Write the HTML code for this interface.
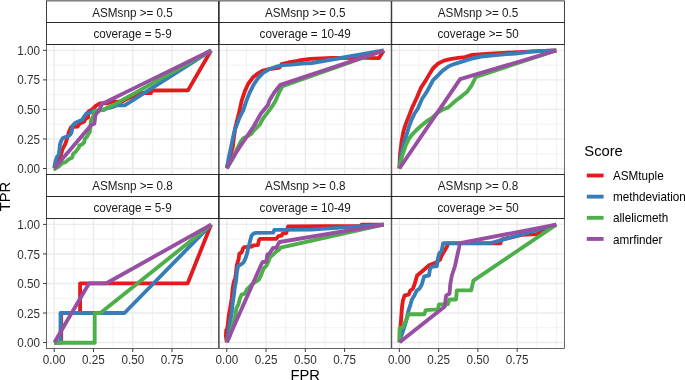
<!DOCTYPE html><html><head><meta charset="utf-8"><style>html,body{margin:0;padding:0;background:#fff;}svg{display:block;will-change:transform;}text{font-family:"Liberation Sans",sans-serif;}</style></head><body>
<svg width="685" height="380" viewBox="0 0 685 380">
<rect width="685" height="380" fill="#fff"/>
<line x1="73.84" y1="44.44" x2="73.84" y2="174.45" stroke="#EBEBEB" stroke-width="0.7"/><line x1="113.11" y1="44.44" x2="113.11" y2="174.45" stroke="#EBEBEB" stroke-width="0.7"/><line x1="152.39" y1="44.44" x2="152.39" y2="174.45" stroke="#EBEBEB" stroke-width="0.7"/><line x1="191.66" y1="44.44" x2="191.66" y2="174.45" stroke="#EBEBEB" stroke-width="0.7"/><line x1="211.30" y1="44.44" x2="211.30" y2="174.45" stroke="#EBEBEB" stroke-width="0.7"/><line x1="46.55" y1="153.73" x2="218.55" y2="153.73" stroke="#EBEBEB" stroke-width="0.7"/><line x1="46.55" y1="124.19" x2="218.55" y2="124.19" stroke="#EBEBEB" stroke-width="0.7"/><line x1="46.55" y1="94.66" x2="218.55" y2="94.66" stroke="#EBEBEB" stroke-width="0.7"/><line x1="46.55" y1="65.12" x2="218.55" y2="65.12" stroke="#EBEBEB" stroke-width="0.7"/><line x1="54.20" y1="44.44" x2="54.20" y2="174.45" stroke="#EBEBEB" stroke-width="1.4"/><line x1="93.47" y1="44.44" x2="93.47" y2="174.45" stroke="#EBEBEB" stroke-width="1.4"/><line x1="132.75" y1="44.44" x2="132.75" y2="174.45" stroke="#EBEBEB" stroke-width="1.4"/><line x1="172.02" y1="44.44" x2="172.02" y2="174.45" stroke="#EBEBEB" stroke-width="1.4"/><line x1="46.55" y1="168.50" x2="218.55" y2="168.50" stroke="#EBEBEB" stroke-width="1.4"/><line x1="46.55" y1="138.96" x2="218.55" y2="138.96" stroke="#EBEBEB" stroke-width="1.4"/><line x1="46.55" y1="109.42" x2="218.55" y2="109.42" stroke="#EBEBEB" stroke-width="1.4"/><line x1="46.55" y1="79.89" x2="218.55" y2="79.89" stroke="#EBEBEB" stroke-width="1.4"/><line x1="46.55" y1="50.35" x2="218.55" y2="50.35" stroke="#EBEBEB" stroke-width="1.4"/>
<g fill="none" stroke-width="3.85" stroke-linejoin="round" stroke-linecap="butt">
<path d="M54.2,168.2 L57.0,163.5 L60.0,158.8 L62.2,150.0 L65.5,143.3 L67.7,136.6 L68.8,132.2 L71.1,127.1 L77.7,126.5 L79.4,123.8 L84.3,121.5 L85.4,118.8 L88.0,117.5 L88.5,111.5 L92.3,109.3 L95.5,106.1 L98.6,104.2 L100.0,103.3 L106.8,103.4 L112.5,101.7 L122.1,101.7 L127.4,98.5 L131.6,97.0 L136.8,94.8 L142.1,93.0 L151.0,93.0 L151.5,90.5 L188.0,90.4 L211.1,50.5" stroke="#E41A1C"/>
<path d="M54.2,168.2 L55.5,161.0 L57.2,156.5 L58.8,154.9 L59.4,149.9 L60.0,144.4 L61.1,141.1 L62.7,138.3 L64.9,137.2 L67.7,136.6 L70.5,134.4 L71.6,132.2 L72.7,125.4 L75.5,122.7 L79.4,121.0 L82.1,119.9 L83.8,117.1 L86.5,113.3 L89.9,112.7 L93.2,110.8 L104.0,109.9 L106.3,108.7 L113.7,106.6 L116.8,105.3 L124.7,105.3 L211.1,50.5" stroke="#377EB8"/>
<path d="M54.2,168.2 L55.0,169.0 L58.8,166.5 L62.2,163.2 L65.5,162.1 L69.4,158.8 L72.1,157.7 L73.2,153.8 L75.4,152.1 L77.1,149.9 L78.8,147.7 L79.3,145.5 L82.1,144.4 L84.3,142.2 L84.8,138.8 L87.1,136.6 L88.2,134.4 L89.8,132.2 L90.4,127.1 L91.0,120.4 L93.2,116.0 L94.3,111.6 L96.5,110.5 L100.9,110.3 L102.6,110.0 L106.5,108.2 L110.5,106.3 L114.7,104.4 L211.1,50.5" stroke="#4DAF4A"/>
<path d="M54.2,168.5 L91.5,124.8 L94.4,123.6 L95.4,115.0 L99.5,109.9 L101.2,105.5 L102.6,103.2 L104.5,102.8 L125.0,92.6 L211.1,50.5" stroke="#984EA3"/>
</g>
<rect x="46.55" y="44.44" width="172.00" height="130.01" fill="none" stroke="#333333" stroke-width="0.75"/>
<rect x="46.55" y="0.9" width="172.00" height="21.57" fill="#fff" stroke="#000" stroke-width="0.75"/>
<rect x="46.55" y="22.47" width="172.00" height="21.97" fill="#fff" stroke="#000" stroke-width="0.75"/>
<text transform="translate(132.55,16.50) scale(1,1.05)" font-size="11.7" fill="#1A1A1A" text-anchor="middle">ASMsnp &gt;= 0.5</text>
<text transform="translate(132.55,38.07) scale(1,1.05)" font-size="11.7" fill="#1A1A1A" text-anchor="middle">coverage = 5-9</text>
<line x1="246.41" y1="44.44" x2="246.41" y2="174.45" stroke="#EBEBEB" stroke-width="0.7"/><line x1="285.69" y1="44.44" x2="285.69" y2="174.45" stroke="#EBEBEB" stroke-width="0.7"/><line x1="324.96" y1="44.44" x2="324.96" y2="174.45" stroke="#EBEBEB" stroke-width="0.7"/><line x1="364.24" y1="44.44" x2="364.24" y2="174.45" stroke="#EBEBEB" stroke-width="0.7"/><line x1="383.88" y1="44.44" x2="383.88" y2="174.45" stroke="#EBEBEB" stroke-width="0.7"/><line x1="219.2" y1="153.73" x2="391.2" y2="153.73" stroke="#EBEBEB" stroke-width="0.7"/><line x1="219.2" y1="124.19" x2="391.2" y2="124.19" stroke="#EBEBEB" stroke-width="0.7"/><line x1="219.2" y1="94.66" x2="391.2" y2="94.66" stroke="#EBEBEB" stroke-width="0.7"/><line x1="219.2" y1="65.12" x2="391.2" y2="65.12" stroke="#EBEBEB" stroke-width="0.7"/><line x1="226.77" y1="44.44" x2="226.77" y2="174.45" stroke="#EBEBEB" stroke-width="1.4"/><line x1="266.05" y1="44.44" x2="266.05" y2="174.45" stroke="#EBEBEB" stroke-width="1.4"/><line x1="305.32" y1="44.44" x2="305.32" y2="174.45" stroke="#EBEBEB" stroke-width="1.4"/><line x1="344.60" y1="44.44" x2="344.60" y2="174.45" stroke="#EBEBEB" stroke-width="1.4"/><line x1="219.2" y1="168.50" x2="391.2" y2="168.50" stroke="#EBEBEB" stroke-width="1.4"/><line x1="219.2" y1="138.96" x2="391.2" y2="138.96" stroke="#EBEBEB" stroke-width="1.4"/><line x1="219.2" y1="109.42" x2="391.2" y2="109.42" stroke="#EBEBEB" stroke-width="1.4"/><line x1="219.2" y1="79.89" x2="391.2" y2="79.89" stroke="#EBEBEB" stroke-width="1.4"/><line x1="219.2" y1="50.35" x2="391.2" y2="50.35" stroke="#EBEBEB" stroke-width="1.4"/>
<g fill="none" stroke-width="3.85" stroke-linejoin="round" stroke-linecap="butt">
<path d="M226.8,168.2 L229.5,158.0 L232.6,148.0 L235.2,127.9 L238.8,113.8 L241.7,100.6 L244.9,91.1 L248.1,84.0 L252.8,77.6 L257.5,73.7 L263.1,70.5 L269.4,69.0 L276.5,68.0 L279.5,67.5 L281.5,64.2 L288.4,62.5 L296.0,61.2 L298.8,60.5 L310.4,58.8 L332.3,58.0 L363.0,57.9 L379.0,58.1 L383.7,50.5" stroke="#E41A1C"/>
<path d="M226.8,168.2 L229.1,156.1 L231.7,143.8 L234.3,131.5 L237.0,124.4 L239.6,117.3 L243.2,110.3 L246.5,100.6 L249.6,92.7 L253.6,84.8 L258.3,77.8 L263.1,72.8 L267.8,70.1 L272.6,68.0 L277.3,66.3 L283.6,65.2 L292.0,64.6 L301.7,63.7 L311.9,63.0 L383.7,50.5" stroke="#377EB8"/>
<path d="M226.8,168.5 L233.5,157.5 L237.5,148.0 L240.5,142.0 L243.2,138.5 L251.1,134.1 L253.7,130.6 L259.9,124.4 L262.6,119.1 L267.9,112.1 L273.1,105.0 L275.7,100.6 L279.5,91.5 L282.5,86.2 L383.7,50.5" stroke="#4DAF4A"/>
<path d="M226.8,168.2 L232.6,157.9 L239.6,147.3 L246.7,136.7 L253.7,126.2 L260.8,113.8 L267.9,105.0 L269.4,100.6 L274.1,92.7 L277.6,88.2 L280.4,84.8 L383.7,50.5" stroke="#984EA3"/>
</g>
<rect x="219.2" y="44.44" width="172.00" height="130.01" fill="none" stroke="#333333" stroke-width="0.75"/>
<rect x="219.2" y="0.9" width="172.00" height="21.57" fill="#fff" stroke="#000" stroke-width="0.75"/>
<rect x="219.2" y="22.47" width="172.00" height="21.97" fill="#fff" stroke="#000" stroke-width="0.75"/>
<text transform="translate(305.20,16.50) scale(1,1.05)" font-size="11.7" fill="#1A1A1A" text-anchor="middle">ASMsnp &gt;= 0.5</text>
<text transform="translate(305.20,38.07) scale(1,1.05)" font-size="11.7" fill="#1A1A1A" text-anchor="middle">coverage = 10-49</text>
<line x1="418.99" y1="44.44" x2="418.99" y2="174.45" stroke="#EBEBEB" stroke-width="0.7"/><line x1="458.26" y1="44.44" x2="458.26" y2="174.45" stroke="#EBEBEB" stroke-width="0.7"/><line x1="497.54" y1="44.44" x2="497.54" y2="174.45" stroke="#EBEBEB" stroke-width="0.7"/><line x1="536.81" y1="44.44" x2="536.81" y2="174.45" stroke="#EBEBEB" stroke-width="0.7"/><line x1="556.45" y1="44.44" x2="556.45" y2="174.45" stroke="#EBEBEB" stroke-width="0.7"/><line x1="391.8" y1="153.73" x2="564.35" y2="153.73" stroke="#EBEBEB" stroke-width="0.7"/><line x1="391.8" y1="124.19" x2="564.35" y2="124.19" stroke="#EBEBEB" stroke-width="0.7"/><line x1="391.8" y1="94.66" x2="564.35" y2="94.66" stroke="#EBEBEB" stroke-width="0.7"/><line x1="391.8" y1="65.12" x2="564.35" y2="65.12" stroke="#EBEBEB" stroke-width="0.7"/><line x1="399.35" y1="44.44" x2="399.35" y2="174.45" stroke="#EBEBEB" stroke-width="1.4"/><line x1="438.62" y1="44.44" x2="438.62" y2="174.45" stroke="#EBEBEB" stroke-width="1.4"/><line x1="477.90" y1="44.44" x2="477.90" y2="174.45" stroke="#EBEBEB" stroke-width="1.4"/><line x1="517.17" y1="44.44" x2="517.17" y2="174.45" stroke="#EBEBEB" stroke-width="1.4"/><line x1="391.8" y1="168.50" x2="564.35" y2="168.50" stroke="#EBEBEB" stroke-width="1.4"/><line x1="391.8" y1="138.96" x2="564.35" y2="138.96" stroke="#EBEBEB" stroke-width="1.4"/><line x1="391.8" y1="109.42" x2="564.35" y2="109.42" stroke="#EBEBEB" stroke-width="1.4"/><line x1="391.8" y1="79.89" x2="564.35" y2="79.89" stroke="#EBEBEB" stroke-width="1.4"/><line x1="391.8" y1="50.35" x2="564.35" y2="50.35" stroke="#EBEBEB" stroke-width="1.4"/>
<g fill="none" stroke-width="3.85" stroke-linejoin="round" stroke-linecap="butt">
<path d="M399.4,168.5 L400.0,154.4 L401.8,140.3 L403.4,131.5 L405.6,124.4 L409.1,115.6 L411.8,108.5 L413.2,105.5 L417.1,97.0 L421.1,87.5 L425.8,80.4 L429.0,74.9 L432.9,68.5 L437.7,63.8 L444.0,60.6 L450.3,59.1 L458.2,57.8 L465.0,57.2 L472.4,54.8 L489.7,53.6 L507.1,52.6 L524.4,51.8 L538.3,51.2 L556.3,50.5" stroke="#E41A1C"/>
<path d="M399.4,168.2 L401.2,154.4 L403.8,143.8 L406.5,135.0 L409.1,126.2 L411.8,119.1 L414.4,113.8 L417.9,108.5 L421.9,99.3 L427.4,90.7 L431.3,83.5 L432.9,80.4 L437.7,75.6 L442.4,70.9 L448.7,66.2 L455.0,63.8 L461.9,61.7 L470.6,58.8 L481.0,56.5 L498.4,54.8 L515.8,53.5 L533.1,51.3 L556.3,50.5" stroke="#377EB8"/>
<path d="M399.4,168.2 L402.1,156.1 L405.6,145.6 L409.1,138.5 L412.6,134.0 L416.2,130.3 L421.5,125.5 L426.7,121.2 L432.0,117.8 L437.3,112.8 L442.6,109.5 L447.9,107.6 L451.9,104.1 L455.0,101.3 L461.9,96.1 L467.2,91.7 L471.5,85.7 L474.1,80.5 L475.9,76.8 L556.3,50.5" stroke="#4DAF4A"/>
<path d="M399.4,168.5 L460.1,79.2 L556.3,50.5" stroke="#984EA3"/>
</g>
<rect x="391.8" y="44.44" width="172.55" height="130.01" fill="none" stroke="#333333" stroke-width="0.75"/>
<rect x="391.8" y="0.9" width="172.55" height="21.57" fill="#fff" stroke="#000" stroke-width="0.75"/>
<rect x="391.8" y="22.47" width="172.55" height="21.97" fill="#fff" stroke="#000" stroke-width="0.75"/>
<text transform="translate(478.08,16.50) scale(1,1.05)" font-size="11.7" fill="#1A1A1A" text-anchor="middle">ASMsnp &gt;= 0.5</text>
<text transform="translate(478.08,38.07) scale(1,1.05)" font-size="11.7" fill="#1A1A1A" text-anchor="middle">coverage &gt;= 50</text>
<line x1="43.0" y1="168.50" x2="46.55" y2="168.50" stroke="#333333" stroke-width="0.95"/>
<text transform="translate(40.10,173.10) scale(1,1.05)" font-size="11.7" fill="#303030" text-anchor="end">0.00</text>
<line x1="43.0" y1="138.96" x2="46.55" y2="138.96" stroke="#333333" stroke-width="0.95"/>
<text transform="translate(40.10,143.56) scale(1,1.05)" font-size="11.7" fill="#303030" text-anchor="end">0.25</text>
<line x1="43.0" y1="109.42" x2="46.55" y2="109.42" stroke="#333333" stroke-width="0.95"/>
<text transform="translate(40.10,114.02) scale(1,1.05)" font-size="11.7" fill="#303030" text-anchor="end">0.50</text>
<line x1="43.0" y1="79.89" x2="46.55" y2="79.89" stroke="#333333" stroke-width="0.95"/>
<text transform="translate(40.10,84.49) scale(1,1.05)" font-size="11.7" fill="#303030" text-anchor="end">0.75</text>
<line x1="43.0" y1="50.35" x2="46.55" y2="50.35" stroke="#333333" stroke-width="0.95"/>
<text transform="translate(40.10,54.95) scale(1,1.05)" font-size="11.7" fill="#303030" text-anchor="end">1.00</text>
<line x1="73.84" y1="218.5" x2="73.84" y2="348.5" stroke="#EBEBEB" stroke-width="0.7"/><line x1="113.11" y1="218.5" x2="113.11" y2="348.5" stroke="#EBEBEB" stroke-width="0.7"/><line x1="152.39" y1="218.5" x2="152.39" y2="348.5" stroke="#EBEBEB" stroke-width="0.7"/><line x1="191.66" y1="218.5" x2="191.66" y2="348.5" stroke="#EBEBEB" stroke-width="0.7"/><line x1="211.30" y1="218.5" x2="211.30" y2="348.5" stroke="#EBEBEB" stroke-width="0.7"/><line x1="46.55" y1="327.78" x2="218.55" y2="327.78" stroke="#EBEBEB" stroke-width="0.7"/><line x1="46.55" y1="298.24" x2="218.55" y2="298.24" stroke="#EBEBEB" stroke-width="0.7"/><line x1="46.55" y1="268.71" x2="218.55" y2="268.71" stroke="#EBEBEB" stroke-width="0.7"/><line x1="46.55" y1="239.17" x2="218.55" y2="239.17" stroke="#EBEBEB" stroke-width="0.7"/><line x1="54.20" y1="218.5" x2="54.20" y2="348.5" stroke="#EBEBEB" stroke-width="1.4"/><line x1="93.47" y1="218.5" x2="93.47" y2="348.5" stroke="#EBEBEB" stroke-width="1.4"/><line x1="132.75" y1="218.5" x2="132.75" y2="348.5" stroke="#EBEBEB" stroke-width="1.4"/><line x1="172.02" y1="218.5" x2="172.02" y2="348.5" stroke="#EBEBEB" stroke-width="1.4"/><line x1="46.55" y1="342.55" x2="218.55" y2="342.55" stroke="#EBEBEB" stroke-width="1.4"/><line x1="46.55" y1="313.01" x2="218.55" y2="313.01" stroke="#EBEBEB" stroke-width="1.4"/><line x1="46.55" y1="283.48" x2="218.55" y2="283.48" stroke="#EBEBEB" stroke-width="1.4"/><line x1="46.55" y1="253.94" x2="218.55" y2="253.94" stroke="#EBEBEB" stroke-width="1.4"/><line x1="46.55" y1="224.40" x2="218.55" y2="224.40" stroke="#EBEBEB" stroke-width="1.4"/>
<g fill="none" stroke-width="3.85" stroke-linejoin="round" stroke-linecap="butt">
<path d="M54.2,342.5 L61.2,342.5 L61.2,313.1 L80.1,313.1 L80.1,283.3 L187.7,283.3 L211.1,224.6" stroke="#E41A1C"/>
<path d="M54.2,342.5 L60.5,342.5 L60.5,313.0 L124.5,313.0 L211.1,224.6" stroke="#377EB8"/>
<path d="M54.2,342.7 L94.7,342.7 L94.7,313.1 L100.4,313.1 L211.1,224.6" stroke="#4DAF4A"/>
<path d="M54.4,342.5 L89.1,283.3 L106.5,283.3 L211.1,224.6" stroke="#984EA3"/>
</g>
<rect x="46.55" y="218.5" width="172.00" height="130.00" fill="none" stroke="#333333" stroke-width="0.75"/>
<rect x="46.55" y="174.45" width="172.00" height="22.00" fill="#fff" stroke="#000" stroke-width="0.75"/>
<rect x="46.55" y="196.45" width="172.00" height="22.05" fill="#fff" stroke="#000" stroke-width="0.75"/>
<text transform="translate(132.55,190.05) scale(1,1.05)" font-size="11.7" fill="#1A1A1A" text-anchor="middle">ASMsnp &gt;= 0.8</text>
<text transform="translate(132.55,212.05) scale(1,1.05)" font-size="11.7" fill="#1A1A1A" text-anchor="middle">coverage = 5-9</text>
<line x1="246.41" y1="218.5" x2="246.41" y2="348.5" stroke="#EBEBEB" stroke-width="0.7"/><line x1="285.69" y1="218.5" x2="285.69" y2="348.5" stroke="#EBEBEB" stroke-width="0.7"/><line x1="324.96" y1="218.5" x2="324.96" y2="348.5" stroke="#EBEBEB" stroke-width="0.7"/><line x1="364.24" y1="218.5" x2="364.24" y2="348.5" stroke="#EBEBEB" stroke-width="0.7"/><line x1="383.88" y1="218.5" x2="383.88" y2="348.5" stroke="#EBEBEB" stroke-width="0.7"/><line x1="219.2" y1="327.78" x2="391.2" y2="327.78" stroke="#EBEBEB" stroke-width="0.7"/><line x1="219.2" y1="298.24" x2="391.2" y2="298.24" stroke="#EBEBEB" stroke-width="0.7"/><line x1="219.2" y1="268.71" x2="391.2" y2="268.71" stroke="#EBEBEB" stroke-width="0.7"/><line x1="219.2" y1="239.17" x2="391.2" y2="239.17" stroke="#EBEBEB" stroke-width="0.7"/><line x1="226.77" y1="218.5" x2="226.77" y2="348.5" stroke="#EBEBEB" stroke-width="1.4"/><line x1="266.05" y1="218.5" x2="266.05" y2="348.5" stroke="#EBEBEB" stroke-width="1.4"/><line x1="305.32" y1="218.5" x2="305.32" y2="348.5" stroke="#EBEBEB" stroke-width="1.4"/><line x1="344.60" y1="218.5" x2="344.60" y2="348.5" stroke="#EBEBEB" stroke-width="1.4"/><line x1="219.2" y1="342.55" x2="391.2" y2="342.55" stroke="#EBEBEB" stroke-width="1.4"/><line x1="219.2" y1="313.01" x2="391.2" y2="313.01" stroke="#EBEBEB" stroke-width="1.4"/><line x1="219.2" y1="283.48" x2="391.2" y2="283.48" stroke="#EBEBEB" stroke-width="1.4"/><line x1="219.2" y1="253.94" x2="391.2" y2="253.94" stroke="#EBEBEB" stroke-width="1.4"/><line x1="219.2" y1="224.40" x2="391.2" y2="224.40" stroke="#EBEBEB" stroke-width="1.4"/>
<g fill="none" stroke-width="3.85" stroke-linejoin="round" stroke-linecap="butt">
<path d="M226.8,342.3 L225.9,336.0 L226.2,330.2 L227.1,329.4 L227.9,323.9 L228.7,316.0 L230.5,306.0 L231.7,298.8 L232.7,288.3 L233.8,282.0 L235.3,278.3 L236.9,264.8 L238.7,258.7 L239.3,253.9 L241.8,252.1 L243.0,248.4 L244.2,247.2 L251.6,246.6 L253.2,245.4 L257.9,245.2 L258.9,240.4 L260.0,238.8 L276.3,238.8 L278.4,236.2 L281.6,235.7 L282.6,233.6 L286.3,233.0 L288.1,226.5 L360.9,225.9 L361.6,224.6 L383.7,224.6" stroke="#E41A1C"/>
<path d="M226.8,342.3 L227.9,335.8 L229.1,327.9 L230.3,320.7 L231.6,314.0 L232.7,303.0 L233.8,295.7 L234.8,287.3 L235.9,282.0 L236.9,272.0 L238.1,266.0 L240.5,264.8 L243.6,262.4 L245.4,258.7 L246.6,255.1 L247.8,250.2 L249.0,245.4 L250.2,240.5 L251.5,235.7 L253.9,233.3 L256.3,232.8 L273.2,232.7 L274.3,229.9 L311.3,229.6 L383.7,224.6" stroke="#377EB8"/>
<path d="M226.8,342.3 L229.9,335.8 L231.5,329.4 L233.1,323.1 L235.3,316.0 L236.4,308.3 L238.5,304.1 L240.1,297.8 L241.7,294.6 L244.8,293.6 L246.9,289.4 L249.0,287.3 L252.2,284.1 L255.4,282.0 L258.7,279.9 L261.1,275.1 L262.4,271.7 L263.8,268.3 L266.5,265.6 L268.4,261.5 L270.0,257.3 L273.2,254.6 L275.3,252.5 L276.8,250.9 L278.9,249.9 L280.5,247.8 L281.6,247.3 L383.7,224.6" stroke="#4DAF4A"/>
<path d="M226.8,342.3 L261.6,263.8 L262.8,262.0 L266.3,261.8 L266.8,257.8 L267.4,254.6 L269.5,253.6 L272.1,249.4 L273.2,247.8 L276.3,247.8 L277.9,244.6 L279.5,242.0 L282.6,241.5 L383.7,224.6" stroke="#984EA3"/>
</g>
<rect x="219.2" y="218.5" width="172.00" height="130.00" fill="none" stroke="#333333" stroke-width="0.75"/>
<rect x="219.2" y="174.45" width="172.00" height="22.00" fill="#fff" stroke="#000" stroke-width="0.75"/>
<rect x="219.2" y="196.45" width="172.00" height="22.05" fill="#fff" stroke="#000" stroke-width="0.75"/>
<text transform="translate(305.20,190.05) scale(1,1.05)" font-size="11.7" fill="#1A1A1A" text-anchor="middle">ASMsnp &gt;= 0.8</text>
<text transform="translate(305.20,212.05) scale(1,1.05)" font-size="11.7" fill="#1A1A1A" text-anchor="middle">coverage = 10-49</text>
<line x1="418.99" y1="218.5" x2="418.99" y2="348.5" stroke="#EBEBEB" stroke-width="0.7"/><line x1="458.26" y1="218.5" x2="458.26" y2="348.5" stroke="#EBEBEB" stroke-width="0.7"/><line x1="497.54" y1="218.5" x2="497.54" y2="348.5" stroke="#EBEBEB" stroke-width="0.7"/><line x1="536.81" y1="218.5" x2="536.81" y2="348.5" stroke="#EBEBEB" stroke-width="0.7"/><line x1="556.45" y1="218.5" x2="556.45" y2="348.5" stroke="#EBEBEB" stroke-width="0.7"/><line x1="391.8" y1="327.78" x2="564.35" y2="327.78" stroke="#EBEBEB" stroke-width="0.7"/><line x1="391.8" y1="298.24" x2="564.35" y2="298.24" stroke="#EBEBEB" stroke-width="0.7"/><line x1="391.8" y1="268.71" x2="564.35" y2="268.71" stroke="#EBEBEB" stroke-width="0.7"/><line x1="391.8" y1="239.17" x2="564.35" y2="239.17" stroke="#EBEBEB" stroke-width="0.7"/><line x1="399.35" y1="218.5" x2="399.35" y2="348.5" stroke="#EBEBEB" stroke-width="1.4"/><line x1="438.62" y1="218.5" x2="438.62" y2="348.5" stroke="#EBEBEB" stroke-width="1.4"/><line x1="477.90" y1="218.5" x2="477.90" y2="348.5" stroke="#EBEBEB" stroke-width="1.4"/><line x1="517.17" y1="218.5" x2="517.17" y2="348.5" stroke="#EBEBEB" stroke-width="1.4"/><line x1="391.8" y1="342.55" x2="564.35" y2="342.55" stroke="#EBEBEB" stroke-width="1.4"/><line x1="391.8" y1="313.01" x2="564.35" y2="313.01" stroke="#EBEBEB" stroke-width="1.4"/><line x1="391.8" y1="283.48" x2="564.35" y2="283.48" stroke="#EBEBEB" stroke-width="1.4"/><line x1="391.8" y1="253.94" x2="564.35" y2="253.94" stroke="#EBEBEB" stroke-width="1.4"/><line x1="391.8" y1="224.40" x2="564.35" y2="224.40" stroke="#EBEBEB" stroke-width="1.4"/>
<g fill="none" stroke-width="3.85" stroke-linejoin="round" stroke-linecap="butt">
<path d="M399.6,342.3 L399.8,330.0 L400.5,326.4 L401.3,316.6 L402.2,305.2 L403.0,300.3 L404.6,295.4 L408.7,294.6 L410.3,290.5 L412.8,288.9 L414.4,284.8 L417.1,275.5 L421.9,271.5 L427.4,266.8 L429.0,265.2 L435.3,262.9 L440.0,259.7 L441.6,255.7 L444.8,250.2 L447.1,246.3 L448.0,243.3 L491.7,243.4 L500.4,243.4 L501.4,239.6 L522.0,234.8 L537.1,234.2 L542.5,231.0 L556.3,224.6" stroke="#E41A1C"/>
<path d="M399.6,342.3 L400.5,337.8 L403.0,331.3 L406.0,321.5 L408.2,311.7 L410.3,305.2 L411.9,299.5 L414.4,295.4 L416.8,290.5 L419.3,288.9 L421.7,284.8 L424.2,276.3 L429.0,275.5 L429.8,270.0 L431.3,266.8 L436.9,266.0 L437.7,259.7 L439.2,253.4 L441.6,251.0 L443.2,243.1 L490.6,243.1 L556.3,224.6" stroke="#377EB8"/>
<path d="M399.6,342.3 L399.7,328.0 L403.0,327.2 L405.4,321.5 L407.0,318.3 L408.7,314.2 L424.2,314.2 L425.8,310.1 L438.0,309.3 L438.9,304.4 L447.8,304.4 L449.5,299.5 L456.0,299.5 L456.8,290.4 L471.2,290.4 L473.4,280.6 L556.3,224.6" stroke="#4DAF4A"/>
<path d="M399.6,342.3 L441.3,309.3 L444.6,306.8 L446.2,295.4 L449.5,293.8 L450.3,284.0 L451.9,275.5 L455.0,266.0 L457.4,255.0 L459.0,247.8 L459.8,243.1 L556.3,224.6" stroke="#984EA3"/>
</g>
<rect x="391.8" y="218.5" width="172.55" height="130.00" fill="none" stroke="#333333" stroke-width="0.75"/>
<rect x="391.8" y="174.45" width="172.55" height="22.00" fill="#fff" stroke="#000" stroke-width="0.75"/>
<rect x="391.8" y="196.45" width="172.55" height="22.05" fill="#fff" stroke="#000" stroke-width="0.75"/>
<text transform="translate(478.08,190.05) scale(1,1.05)" font-size="11.7" fill="#1A1A1A" text-anchor="middle">ASMsnp &gt;= 0.8</text>
<text transform="translate(478.08,212.05) scale(1,1.05)" font-size="11.7" fill="#1A1A1A" text-anchor="middle">coverage &gt;= 50</text>
<line x1="43.0" y1="342.55" x2="46.55" y2="342.55" stroke="#333333" stroke-width="0.95"/>
<text transform="translate(40.10,347.15) scale(1,1.05)" font-size="11.7" fill="#303030" text-anchor="end">0.00</text>
<line x1="43.0" y1="313.01" x2="46.55" y2="313.01" stroke="#333333" stroke-width="0.95"/>
<text transform="translate(40.10,317.61) scale(1,1.05)" font-size="11.7" fill="#303030" text-anchor="end">0.25</text>
<line x1="43.0" y1="283.48" x2="46.55" y2="283.48" stroke="#333333" stroke-width="0.95"/>
<text transform="translate(40.10,288.08) scale(1,1.05)" font-size="11.7" fill="#303030" text-anchor="end">0.50</text>
<line x1="43.0" y1="253.94" x2="46.55" y2="253.94" stroke="#333333" stroke-width="0.95"/>
<text transform="translate(40.10,258.54) scale(1,1.05)" font-size="11.7" fill="#303030" text-anchor="end">0.75</text>
<line x1="43.0" y1="224.40" x2="46.55" y2="224.40" stroke="#333333" stroke-width="0.95"/>
<text transform="translate(40.10,229.00) scale(1,1.05)" font-size="11.7" fill="#303030" text-anchor="end">1.00</text>
<line x1="54.20" y1="348.5" x2="54.20" y2="352.00" stroke="#333333" stroke-width="0.95"/>
<text transform="translate(54.20,364.00) scale(1,1.05)" font-size="11.7" fill="#303030" text-anchor="middle">0.00</text>
<line x1="93.47" y1="348.5" x2="93.47" y2="352.00" stroke="#333333" stroke-width="0.95"/>
<text transform="translate(93.47,364.00) scale(1,1.05)" font-size="11.7" fill="#303030" text-anchor="middle">0.25</text>
<line x1="132.75" y1="348.5" x2="132.75" y2="352.00" stroke="#333333" stroke-width="0.95"/>
<text transform="translate(132.75,364.00) scale(1,1.05)" font-size="11.7" fill="#303030" text-anchor="middle">0.50</text>
<line x1="172.02" y1="348.5" x2="172.02" y2="352.00" stroke="#333333" stroke-width="0.95"/>
<text transform="translate(172.02,364.00) scale(1,1.05)" font-size="11.7" fill="#303030" text-anchor="middle">0.75</text>
<line x1="226.77" y1="348.5" x2="226.77" y2="352.00" stroke="#333333" stroke-width="0.95"/>
<text transform="translate(226.77,364.00) scale(1,1.05)" font-size="11.7" fill="#303030" text-anchor="middle">0.00</text>
<line x1="266.05" y1="348.5" x2="266.05" y2="352.00" stroke="#333333" stroke-width="0.95"/>
<text transform="translate(266.05,364.00) scale(1,1.05)" font-size="11.7" fill="#303030" text-anchor="middle">0.25</text>
<line x1="305.32" y1="348.5" x2="305.32" y2="352.00" stroke="#333333" stroke-width="0.95"/>
<text transform="translate(305.32,364.00) scale(1,1.05)" font-size="11.7" fill="#303030" text-anchor="middle">0.50</text>
<line x1="344.60" y1="348.5" x2="344.60" y2="352.00" stroke="#333333" stroke-width="0.95"/>
<text transform="translate(344.60,364.00) scale(1,1.05)" font-size="11.7" fill="#303030" text-anchor="middle">0.75</text>
<line x1="399.35" y1="348.5" x2="399.35" y2="352.00" stroke="#333333" stroke-width="0.95"/>
<text transform="translate(399.35,364.00) scale(1,1.05)" font-size="11.7" fill="#303030" text-anchor="middle">0.00</text>
<line x1="438.62" y1="348.5" x2="438.62" y2="352.00" stroke="#333333" stroke-width="0.95"/>
<text transform="translate(438.62,364.00) scale(1,1.05)" font-size="11.7" fill="#303030" text-anchor="middle">0.25</text>
<line x1="477.90" y1="348.5" x2="477.90" y2="352.00" stroke="#333333" stroke-width="0.95"/>
<text transform="translate(477.90,364.00) scale(1,1.05)" font-size="11.7" fill="#303030" text-anchor="middle">0.50</text>
<line x1="517.17" y1="348.5" x2="517.17" y2="352.00" stroke="#333333" stroke-width="0.95"/>
<text transform="translate(517.17,364.00) scale(1,1.05)" font-size="11.7" fill="#303030" text-anchor="middle">0.75</text>
<text transform="translate(305.20,379.60) scale(1,1.05)" font-size="14.75" fill="#000" text-anchor="middle">FPR</text>
<text transform="translate(10.40,196.50) rotate(-90) scale(1,1.05)" font-size="14.75" fill="#000" text-anchor="middle">TPR</text>
<text transform="translate(584.30,155.80) scale(1,1.05)" font-size="14.75" fill="#000">Score</text>
<line x1="586.8" y1="175.50" x2="603.6" y2="175.50" stroke="#E41A1C" stroke-width="3.85"/>
<text transform="translate(613.00,179.60) scale(1,1.05)" font-size="11.7" fill="#000">ASMtuple</text>
<line x1="586.8" y1="196.65" x2="603.6" y2="196.65" stroke="#377EB8" stroke-width="3.85"/>
<text transform="translate(613.00,201.02) scale(1,1.05)" font-size="11.7" fill="#000">methdeviation</text>
<line x1="586.8" y1="217.80" x2="603.6" y2="217.80" stroke="#4DAF4A" stroke-width="3.85"/>
<text transform="translate(613.00,222.44) scale(1,1.05)" font-size="11.7" fill="#000">allelicmeth</text>
<line x1="586.8" y1="238.95" x2="603.6" y2="238.95" stroke="#984EA3" stroke-width="3.85"/>
<text transform="translate(613.00,243.86) scale(1,1.05)" font-size="11.7" fill="#000">amrfinder</text>
</svg></body></html>
